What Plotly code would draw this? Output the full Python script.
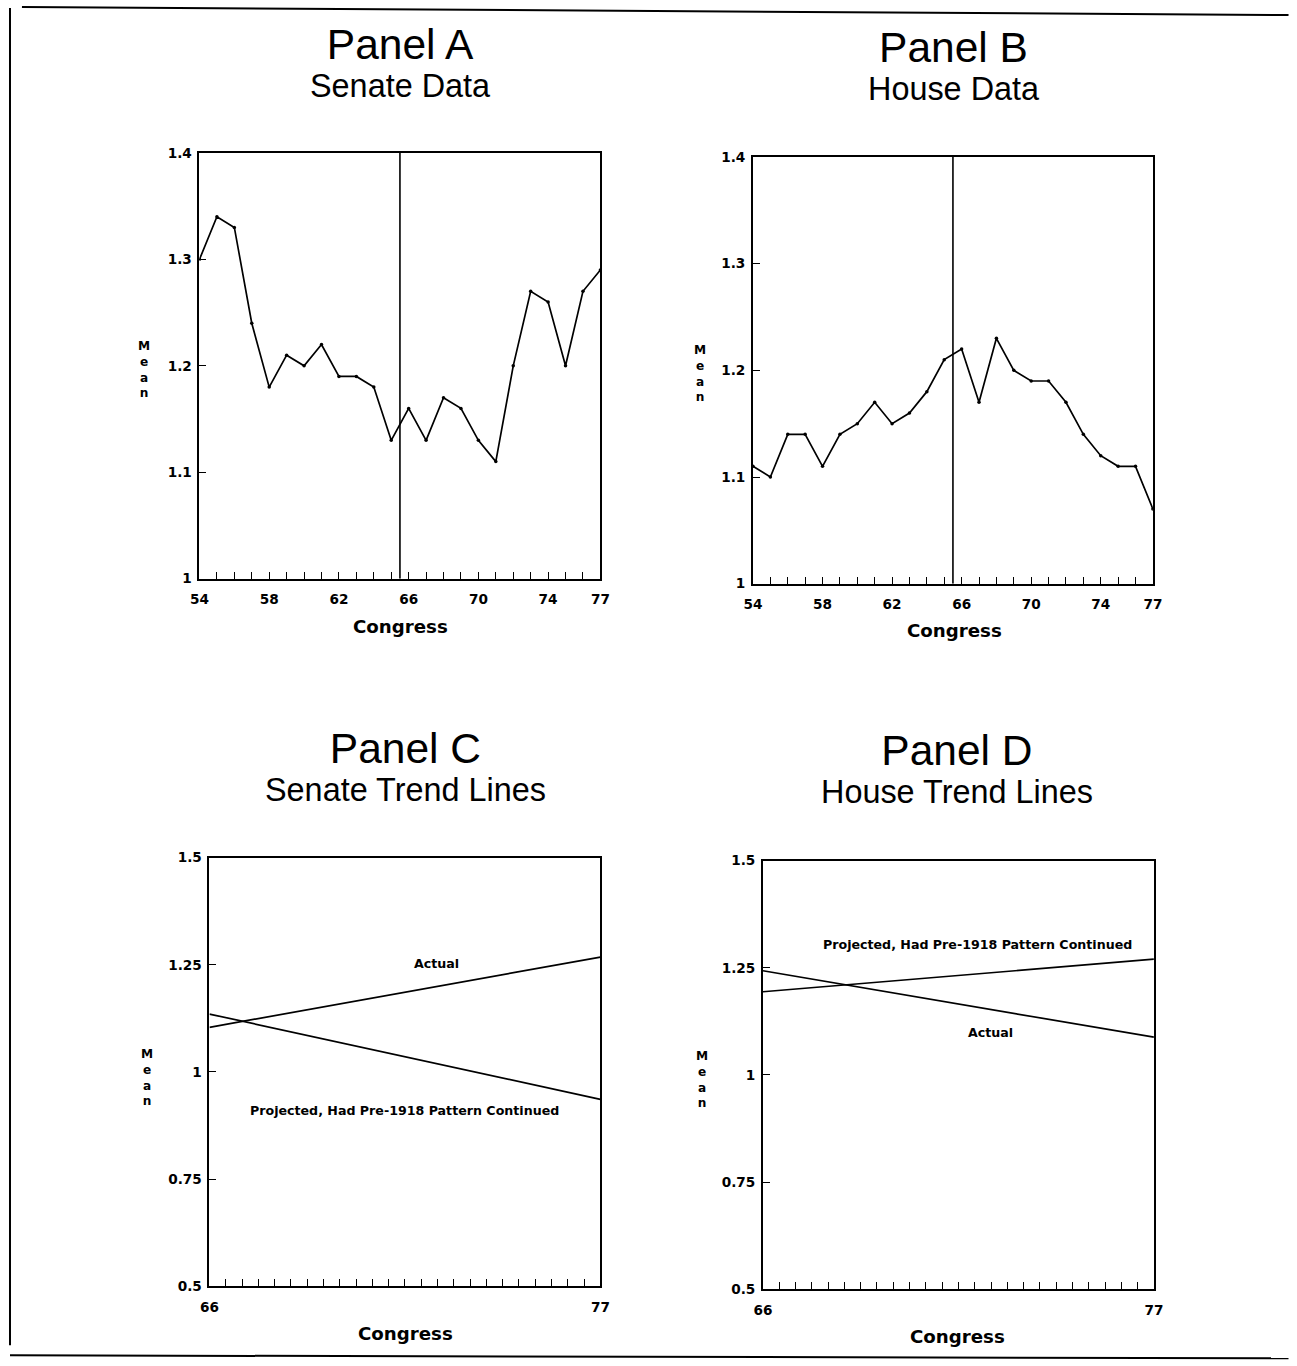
import plotly.graph_objects as go

# ---------------- data ----------------
congress = [54, 55, 56, 57, 58, 59, 60, 61, 62, 63, 64, 65,
            66, 67, 68, 69, 70, 71, 72, 73, 74, 75, 76, 77]
senate_mean = [1.30, 1.34, 1.33, 1.24, 1.18, 1.21, 1.20, 1.22, 1.19, 1.19, 1.18, 1.13,
               1.16, 1.13, 1.17, 1.16, 1.13, 1.11, 1.20, 1.27, 1.26, 1.20, 1.27, 1.29]
house_mean = [1.11, 1.10, 1.14, 1.14, 1.11, 1.14, 1.15, 1.17, 1.15, 1.16, 1.18, 1.21,
              1.22, 1.17, 1.23, 1.20, 1.19, 1.19, 1.17, 1.14, 1.12, 1.11, 1.11, 1.07]
divide_congress = 65.5

data_xticks = [54, 58, 62, 66, 70, 74, 77]
data_yticks = [1, 1.1, 1.2, 1.3, 1.4]

trend_x = [66, 77]
senate_actual = [1.104, 1.268]
senate_projected = [1.135, 0.936]
house_actual = [1.243, 1.088]
house_projected = [1.194, 1.270]
trend_xticks = [66, 77]
trend_yticks = [0.5, 0.75, 1, 1.25, 1.5]

panel_titles = ["Panel A", "Panel B", "Panel C", "Panel D"]
panel_subtitles = ["Senate Data", "House Data", "Senate Trend Lines", "House Trend Lines"]
label_actual = "Actual"
label_projected = "Projected, Had Pre-1918 Pattern Continued"

# ---------------- layout helpers ----------------
W, H = 1297, 1366
S, OX, OY = 0.9888, 7.0, 7.0   # compensation for how the page is photographed

def px(x):
    return ((x - OX) / S) / W
def py(y):
    return 1 - ((y - OY) / S) / H
def fs(size):
    return size / S

TITLE_FONT = "Liberation Sans, Arial, sans-serif"
BOLD_FONT = "DejaVu Sans, Liberation Sans, sans-serif"
tickfont = dict(family=BOLD_FONT, size=fs(13.5), color="black", weight="bold")

fig = go.Figure()

line_style = dict(color="black", width=1.7)

# Panel A & B data
fig.add_trace(go.Scatter(x=congress, y=senate_mean, mode="lines+markers",
                         line=line_style, marker=dict(size=3.5, color="black"),
                         xaxis="x", yaxis="y", showlegend=False))
fig.add_trace(go.Scatter(x=congress, y=house_mean, mode="lines+markers",
                         line=line_style, marker=dict(size=3.5, color="black"),
                         xaxis="x2", yaxis="y2", showlegend=False))
# vertical dividers
for xa, ya in [("x", "y"), ("x2", "y2")]:
    fig.add_trace(go.Scatter(x=[divide_congress, divide_congress], y=[1, 1.4], mode="lines",
                             line=dict(color="black", width=1.6),
                             xaxis=xa, yaxis=ya, showlegend=False))

# Panel C & D trend lines
for ys, xa, ya in [(senate_actual, "x3", "y3"), (senate_projected, "x3", "y3"),
                   (house_actual, "x4", "y4"), (house_projected, "x4", "y4")]:
    fig.add_trace(go.Scatter(x=trend_x, y=ys, mode="lines", line=line_style,
                             xaxis=xa, yaxis=ya, showlegend=False))

# plot area pixel boxes (left, right, top, bottom)
boxes = [(198, 600, 152, 578), (753, 1154, 156, 583),
         (208, 600, 857, 1286), (763, 1155, 860, 1289)]

axis_common = dict(showline=True, mirror=True, linecolor="black", linewidth=1.8,
                   showgrid=False, zeroline=False, ticks="inside", tickcolor="black",
                   tickwidth=1.3, tickfont=tickfont)

layout_axes = {}
for i, (l, r, t, b) in enumerate(boxes):
    n = "" if i == 0 else str(i + 1)
    if i < 2:
        xa = dict(axis_common, domain=[px(l), px(r)], range=[54, 77],
                  tickvals=data_xticks, ticklen=7, ticklabelstandoff=7,
                  minor=dict(ticks="inside", dtick=1, tick0=54, ticklen=7,
                             tickcolor="black", tickwidth=1.3, showgrid=False))
        ya = dict(axis_common, domain=[py(b), py(t)], range=[1, 1.4],
                  tickvals=data_yticks, ticklen=7, ticklabelstandoff=3)
    else:
        xa = dict(axis_common, domain=[px(l), px(r)], range=[66, 77],
                  tickvals=trend_xticks, ticklen=7, ticklabelstandoff=7,
                  minor=dict(ticks="inside", dtick=11 / 24, tick0=66, ticklen=7,
                             tickcolor="black", tickwidth=1.3, showgrid=False))
        ya = dict(axis_common, domain=[py(b), py(t)], range=[0.5, 1.5],
                  tickvals=trend_yticks, ticklen=7, ticklabelstandoff=3)
    xa["anchor"] = "y" + n
    ya["anchor"] = "x" + n
    layout_axes["xaxis" + n] = xa
    layout_axes["yaxis" + n] = ya

annotations = []
# panel heading (title + subtitle as one two-line text block)
title_pos = [(400, 62), (955, 65), (405, 766), (958, 768)]
for (cx, cy), t, s in zip(title_pos, panel_titles, panel_subtitles):
    text = ("<span style='font-size:%.1fpx'>%s</span><br>"
            "<span style='font-size:%.1fpx'>%s</span>" % (fs(42), t, fs(32), s))
    annotations.append(dict(x=px(cx), y=py(cy), xref="paper", yref="paper",
                            text=text, showarrow=False, xanchor="center", yanchor="middle",
                            align="center",
                            font=dict(family=TITLE_FONT, size=fs(29), color="black")))

congress_pos = [(400, 626), (955, 630), (405, 1333), (958, 1336)]
for cx, cy in congress_pos:
    annotations.append(dict(x=px(cx), y=py(cy), xref="paper", yref="paper",
                            text="Congress", showarrow=False, xanchor="center", yanchor="middle",
                            font=dict(family=BOLD_FONT, size=fs(18), color="black", weight="bold")))

mean_pos = [(142, 369), (700, 373), (145, 1077), (702, 1079)]
for cx, cy in mean_pos:
    annotations.append(dict(x=px(cx), y=py(cy), xref="paper", yref="paper",
                            text="M<br>e<br>a<br>n", showarrow=False, xanchor="center",
                            yanchor="middle", align="center",
                            font=dict(family=BOLD_FONT, size=fs(12), color="black", weight="bold")))

lab_font = dict(family=BOLD_FONT, size=fs(12.5), color="black", weight="bold")
annotations += [
    dict(x=72.4, y=1.253, xref="x3", yref="y3", text=label_actual, showarrow=False, font=lab_font),
    dict(x=71.5, y=0.911, xref="x3", yref="y3", text=label_projected, showarrow=False, font=lab_font),
    dict(x=72.05, y=1.305, xref="x4", yref="y4", text=label_projected, showarrow=False, font=lab_font),
    dict(x=72.4, y=1.099, xref="x4", yref="y4", text=label_actual, showarrow=False, font=lab_font),
]

shapes = [
    dict(type="line", xref="paper", yref="paper", x0=px(8), x1=px(8), y0=py(7), y1=py(1345),
         line=dict(color="black", width=2)),
    dict(type="line", xref="paper", yref="paper", x0=px(20), x1=px(1290), y0=py(6), y1=py(14),
         line=dict(color="black", width=2)),
    dict(type="line", xref="paper", yref="paper", x0=px(8), x1=px(1290), y0=py(1355), y1=py(1358),
         line=dict(color="black", width=2)),
]

fig.update_layout(width=W, height=H, margin=dict(l=0, r=0, t=0, b=0),
                  paper_bgcolor="white", plot_bgcolor="white",
                  annotations=annotations, shapes=shapes, showlegend=False,
                  **layout_axes)

fig.write_html("out.html", config={"displayModeBar": False},
               post_script="document.body.style.margin='0';"
                           "document.body.style.overflow='hidden';"
                           "document.documentElement.style.overflow='hidden';")
